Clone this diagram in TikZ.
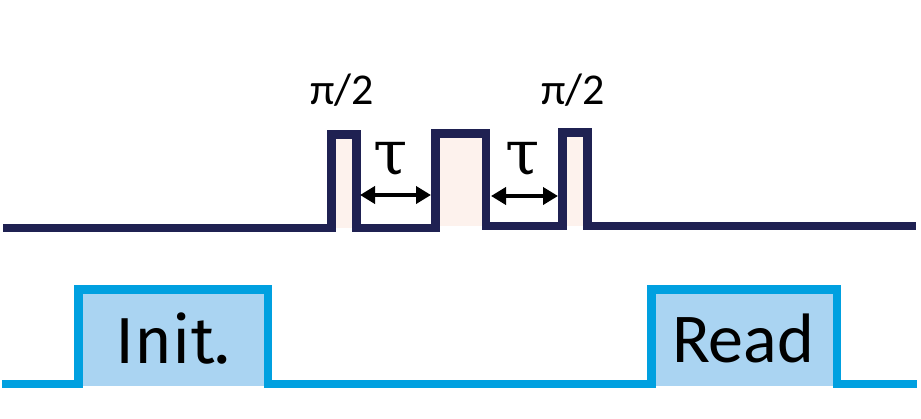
\documentclass[tikz,border=0pt]{standalone}
\usepackage{fontspec}
\setmainfont{Carlito}
\newfontfamily\initfont{Fira Sans}
\newfontfamily\taufont{DejaVu Serif}
\usetikzlibrary{arrows.meta}
\definecolor{navy}{RGB}{31,33,82}
\definecolor{cyanline}{RGB}{0,160,224}
\definecolor{boxblue}{RGB}{170,212,242}
\definecolor{pinkfill}{RGB}{253,242,237}
\tikzset{
  navyline/.style={draw=navy,line width=8.5pt,line join=miter},
  cyanwave/.style={draw=cyanline,line width=8.5pt,line join=miter},
  gaparrow/.style={{Triangle[length=15pt,width=17pt]}-{Triangle[length=15pt,width=17pt]},line width=4.5pt,black},
  pilabel/.style={anchor=base,inner sep=0pt,font=\fontsize{44}{44}\selectfont},
  taulabel/.style={anchor=base,inner sep=0pt,font=\taufont\fontsize{62}{62}\selectfont},
}
\begin{document}
\begin{tikzpicture}[x=1pt,y=-1pt]
\useasboundingbox (0,0) rectangle (921,418);
% fills
\fill[pinkfill] (331.5,134.5) rectangle (356.5,228);
\fill[pinkfill] (435.5,133.5) rectangle (486,226);
\fill[pinkfill] (562.5,132.5) rectangle (587.5,226);
\fill[boxblue] (78.5,289.5) rectangle (268,386);
\fill[boxblue] (651.5,289.5) rectangle (837,386);
% top pulse sequence
\draw[navyline] (3,228) -- (331.5,228) -- (331.5,134.5) -- (356.5,134.5) -- (356.5,228)
  -- (435.5,228) -- (435.5,133.5) -- (486,133.5) -- (486,226) -- (562.5,226)
  -- (562.5,132.5) -- (587.5,132.5) -- (587.5,226) -- (916,226);
% bottom sequence
\draw[cyanwave] (2,384) -- (78.5,384) -- (78.5,289.5) -- (268,289.5) -- (268,384)
  -- (651.5,384) -- (651.5,289.5) -- (837,289.5) -- (837,384) -- (917,384);
% arrows
\coordinate (a1) at (360,195);
\coordinate (b1) at (431,195);
\coordinate (a2) at (491,196);
\coordinate (b2) at (558,196);
\draw[gaparrow] (a1) -- (b1);
\draw[gaparrow] (a2) -- (b2);
% labels
\node[taulabel] (tau1) at (391,174) {τ};
\node[taulabel] (tau2) at (523,174) {τ};
\node[pilabel] (pi1) at (342,104) {π/2};
\node[pilabel] (pi2) at (573,104) {π/2};
\node[anchor=base,inner sep=0pt,font=\initfont\fontsize{65}{65}\selectfont] (init) at (173,363) {Init.};
\node[anchor=base,inner sep=0pt,font=\fontsize{70}{70}\selectfont] (read) at (743,362) {Read};
\end{tikzpicture}
\end{document}
